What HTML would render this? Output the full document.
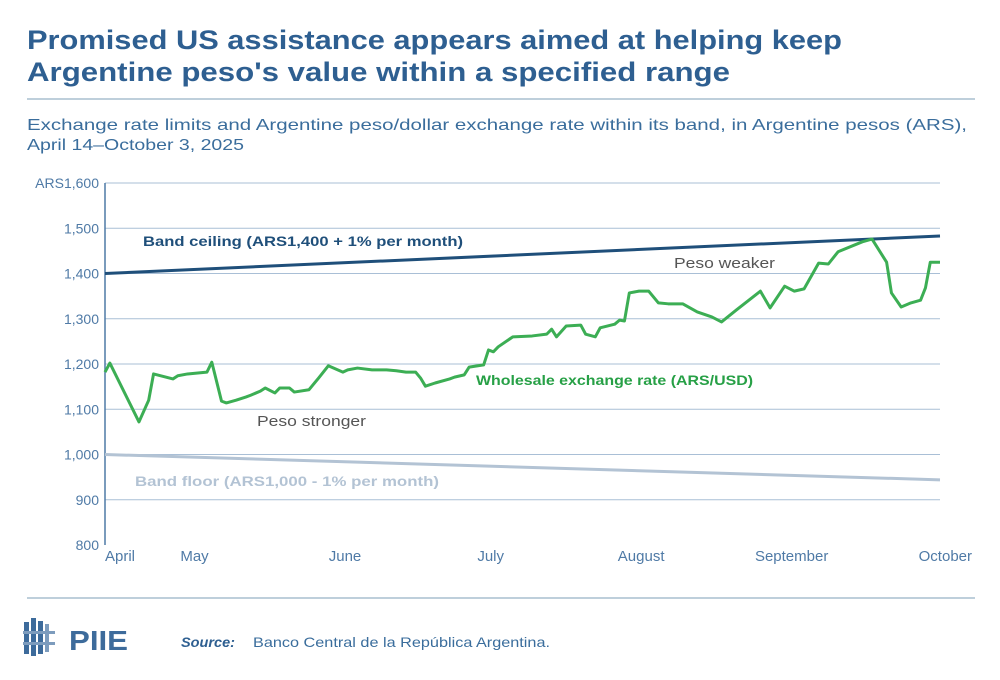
<!DOCTYPE html>
<html><head><meta charset="utf-8"><style>
html,body{margin:0;padding:0;background:#fff;width:1000px;height:680px;overflow:hidden;font-family:"Liberation Sans",sans-serif}
</style></head><body>
<svg id="c" width="1000" height="680" xmlns="http://www.w3.org/2000/svg">
<text x="27" y="49" font-size="27" font-weight="bold" fill="#2e5f91" textLength="815" lengthAdjust="spacingAndGlyphs">Promised US assistance appears aimed at helping keep</text>
<text x="27" y="81" font-size="27" font-weight="bold" fill="#2e5f91" textLength="703" lengthAdjust="spacingAndGlyphs">Argentine peso's value within a specified range</text>
<line x1="27" y1="99" x2="975" y2="99" stroke="#a9bfcf" stroke-width="1.5"/>
<text x="27" y="130" font-size="16" fill="#3a6d9c" textLength="940" lengthAdjust="spacingAndGlyphs">Exchange rate limits and Argentine peso/dollar exchange rate within its band, in Argentine pesos (ARS),</text>
<text x="27" y="150" font-size="16" fill="#3a6d9c" textLength="217" lengthAdjust="spacingAndGlyphs">April 14–October 3, 2025</text>
<g id="grid"></g><g id="marks"></g>
<text x="143" y="246" font-size="14" font-weight="bold" fill="#1f4f7a" textLength="320" lengthAdjust="spacingAndGlyphs">Band ceiling (ARS1,400 + 1% per month)</text>
<text x="135" y="486" font-size="14" font-weight="bold" fill="#b3c3d4" textLength="304" lengthAdjust="spacingAndGlyphs">Band floor (ARS1,000 - 1% per month)</text>
<text x="476" y="385" font-size="14" font-weight="bold" fill="#27a046" textLength="277" lengthAdjust="spacingAndGlyphs">Wholesale exchange rate (ARS/USD)</text>
<text x="674" y="268" font-size="15" fill="#555" textLength="101" lengthAdjust="spacingAndGlyphs">Peso weaker</text>
<text x="257" y="426" font-size="15" fill="#555" textLength="109" lengthAdjust="spacingAndGlyphs">Peso stronger</text>
<line x1="27" y1="598" x2="975" y2="598" stroke="#a9bfcf" stroke-width="1.5"/>
<g>
<rect x="24" y="622" width="5" height="32" fill="#3d6b9b"/><rect x="31" y="618" width="5" height="38" fill="#3d6b9b"/><rect x="38" y="621" width="5" height="33" fill="#3d6b9b"/><rect x="45" y="624" width="4" height="28" fill="#7d9cbd"/>
<rect x="23" y="631" width="32" height="3" fill="#7d9cbd"/><rect x="23" y="642" width="32" height="3" fill="#7d9cbd"/>
<text x="69" y="650" font-size="28" font-weight="bold" fill="#3d6b9b" textLength="59" lengthAdjust="spacingAndGlyphs">PIIE</text></g>
<text x="181" y="647" font-size="14" font-weight="bold" font-style="italic" fill="#2e5f91" textLength="54" lengthAdjust="spacingAndGlyphs">Source:</text>
<text x="253" y="647" font-size="14" fill="#3a6d9c" textLength="297" lengthAdjust="spacingAndGlyphs">Banco Central de la República Argentina.</text>
</svg>
<script>
const yTicks=[800,900,1000,1100,1200,1300,1400,1500,1600];
const yTickLabels=["800","900","1,000","1,100","1,200","1,300","1,400","1,500","ARS1,600"];
const monthDays=[0,17,48,78,109,140,170];
const monthLabels=["April","May","June","July","August","September","October"];
const days=[0,1,7,9,10,14,15,17,21,22,24,25,27,29,30,32,33,35,36,38,39,42,44,46,49,50,52,55,58,60,62,64,65,66,68,71,72,74,75,78,79,80,81,84,88,91,92,93,95,98,99,101,102,105,106,107,108,110,112,114,116,119,122,125,127,130,135,137,140,142,144,147,149,151,156,158,161,162,164,166,168,169,170,172];
const rate=[1182,1202,1072,1120,1178,1167,1174,1178,1182,1204,1118,1114,1120,1127,1131,1140,1147,1136,1147,1147,1138,1143,1169,1196,1182,1187,1191,1187,1187,1185,1182,1182,1169,1151,1158,1167,1171,1176,1193,1198,1231,1227,1238,1260,1262,1266,1277,1260,1284,1286,1266,1260,1280,1288,1297,1295,1357,1361,1361,1335,1333,1333,1315,1304,1293,1319,1361,1324,1372,1361,1366,1423,1421,1448,1470,1476,1425,1357,1326,1335,1341,1368,1425,1425];
const ceilingDays=[0,172];
const ceiling=[1400,1483];
const floorDays=[0,172];
const floorVals=[1000,944];
const NS="http://www.w3.org/2000/svg";
const x0=105,x1=940,yMin=800,yMax=1600,yTop=183,yBot=545;
const X=d=>x0+d*(x1-x0)/172;
const Y=v=>yBot-(v-yMin)*(yBot-yTop)/(yMax-yMin);
function mk(t,a,p){const e=document.createElementNS(NS,t);for(const k in a)e.setAttribute(k,a[k]);p.appendChild(e);return e;}
const g=document.getElementById('grid'),m=document.getElementById('marks');
yTicks.forEach((v,i)=>{
  if(i>0){const l=mk('line',{x1:x0,x2:x1,y1:Y(v),y2:Y(v),stroke:'#a9bfd6','stroke-width':1},g);
  
  }
  const t=mk('text',{x:99,y:Y(v)+5,'text-anchor':'end','font-size':14,fill:'#4f7aa6'},g);
  t.textContent=yTickLabels[i];
  
  
});
const ax=mk('line',{x1:x0,x2:x0,y1:yTop,y2:yBot,stroke:'#4f7aa6','stroke-width':1.5},g);


monthDays.forEach((d,i)=>{
  const t=mk('text',{x:i==0?X(d):X(d)+7,y:561,'text-anchor':i==0?'start':(i==6?'end':'middle'),'font-size':15,fill:'#4f7aa6'},g);
  if(i==6){t.setAttribute('x',972);}
  t.textContent=monthLabels[i];
  
  
});
function line(ds,vs,col,w,name){
  const p=mk('polyline',{points:ds.map((d,i)=>X(d)+','+Y(vs[i])).join(' '),fill:'none',stroke:col,'stroke-width':w,'stroke-linejoin':'round'},m);
  
  
}
line(floorDays,floorVals,'#b3c3d4',3,'band-floor-line');
line(ceilingDays,ceiling,'#1f4f7a',3,'band-ceiling-line');
line(days,rate,'#3cae54',3,'wholesale-rate-line');
</script>
</body></html>
